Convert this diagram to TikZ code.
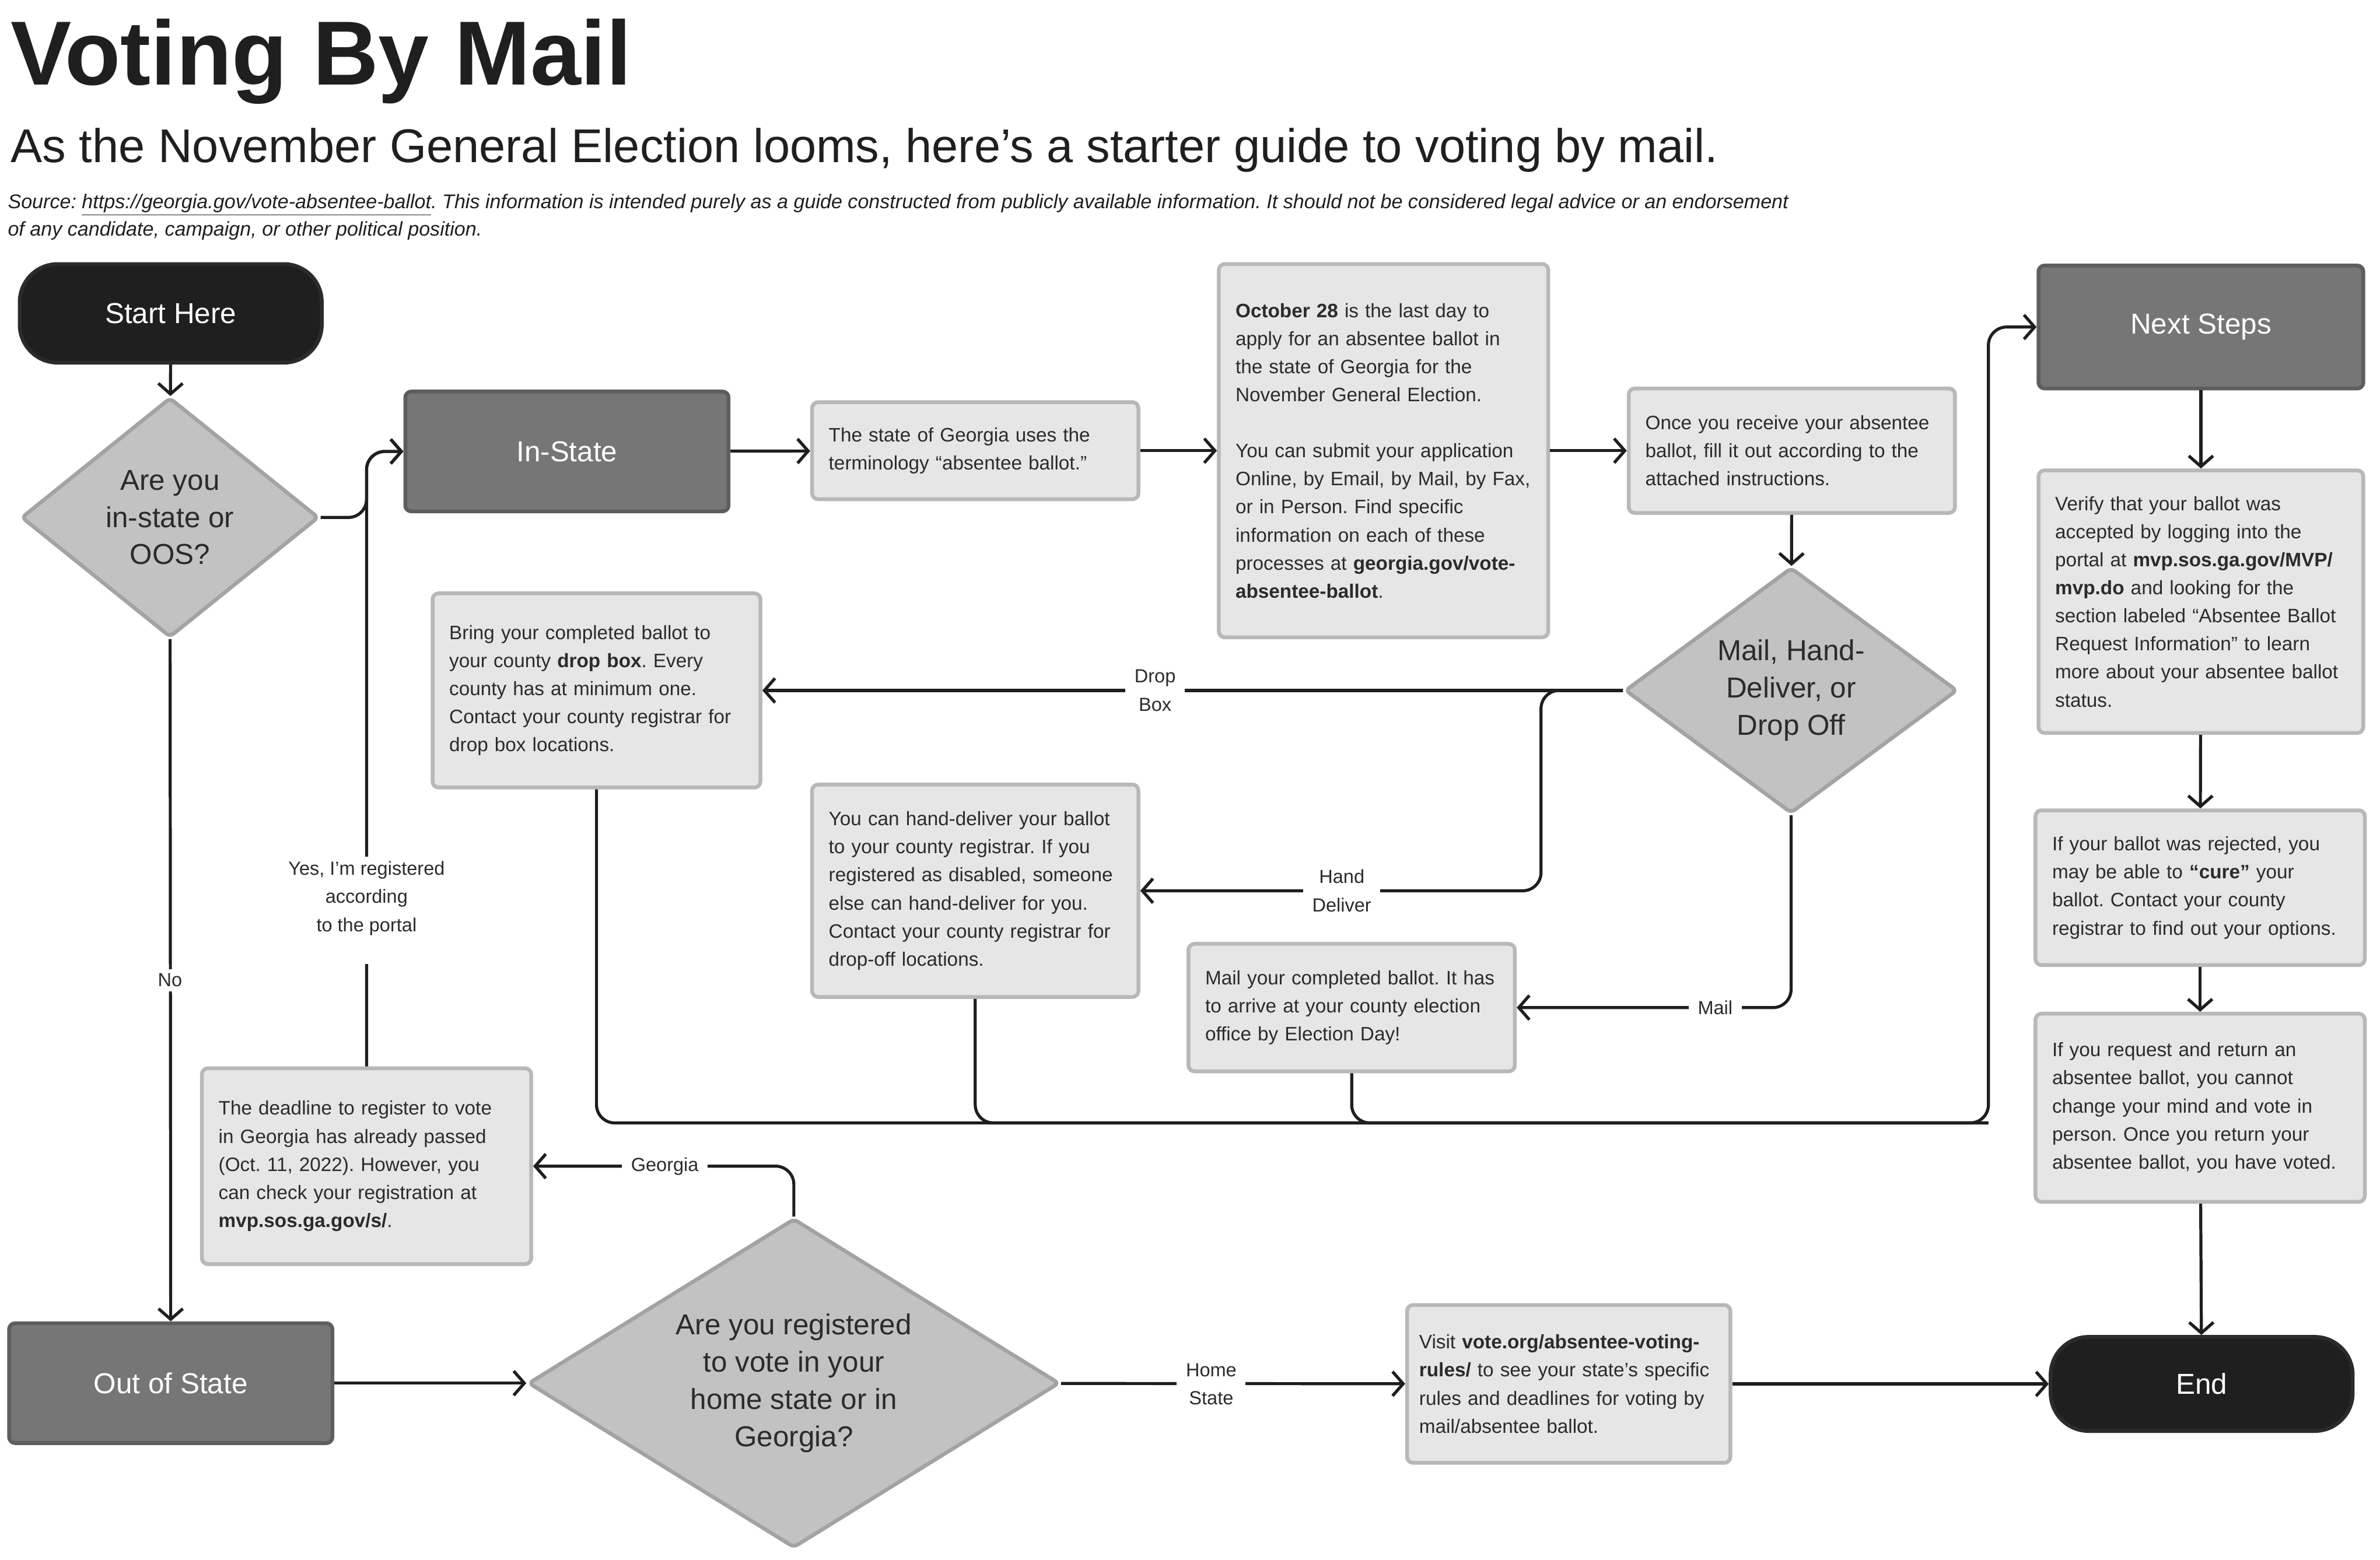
\documentclass[tikz,border=0pt]{standalone}
\usepackage{fontspec}
\setmainfont{Liberation Sans}
\usepackage{tikz}
\usetikzlibrary{arrows.meta,shapes.geometric}
\frenchspacing
\hyphenpenalty=10000
\definecolor{schwarz}{rgb}{0.122,0.122,0.122}
\definecolor{schwarzRand}{rgb}{0.17,0.17,0.17}
\definecolor{dunkel}{rgb}{0.463,0.463,0.463}
\definecolor{dunkelRand}{rgb}{0.37,0.37,0.37}
\definecolor{hell}{rgb}{0.902,0.902,0.902}
\definecolor{hellRand}{rgb}{0.722,0.722,0.722}
\definecolor{raute}{rgb}{0.761,0.761,0.761}
\definecolor{rauteRand}{rgb}{0.64,0.64,0.64}
\definecolor{schrift}{rgb}{0.17,0.17,0.17}
\definecolor{linie}{rgb}{0.118,0.118,0.118}
\tikzstyle{terminal} = [line width=2.5pt,draw=schwarzRand,fill=schwarz,rectangle,rounded corners=25pt,text=white,font=\fontsize{19}{24}\selectfont]
\tikzstyle{stage} = [line width=2.5pt,draw=dunkelRand,fill=dunkel,rectangle,rounded corners=4pt,text=white,font=\fontsize{19}{24}\selectfont]
\tikzstyle{info} = [line width=2.5pt,draw=hellRand,fill=hell,rectangle,rounded corners=4pt,text=schrift,align=left,inner xsep=11pt,inner ysep=0pt,font=\fontsize{12.8}{18.5}\selectfont]
\tikzstyle{decision} = [line width=2.5pt,draw=rauteRand,fill=raute,diamond,rounded corners=3pt,text=schrift,align=center,inner sep=0pt,font=\fontsize{19}{24.5}\selectfont]
\tikzstyle{flow} = [-{Straight Barb[length=7pt,width=16pt]},line width=2pt,draw=linie,rounded corners=12pt]
\tikzstyle{flowline} = [line width=2pt,draw=linie,rounded corners=12pt]
\tikzstyle{lbl} = [fill=white,text=schrift,align=center,inner xsep=6pt,inner ysep=3pt,font=\fontsize{12.5}{18.5}\selectfont]

\begin{document}
\begin{tikzpicture}[x=1pt,y=-1pt]
\path[use as bounding box,fill=white] (0,0) rectangle (1568,1028);

% header
\node[anchor=base west,inner sep=0pt,text=schwarz,font=\fontsize{60}{66}\selectfont\bfseries] (titel) at (7,56) {Voting By Mail};
\node[anchor=base west,inner sep=0pt,text=schwarz,font=\fontsize{31.2}{36}\selectfont] (untertitel) at (7,107) {As the November General Election looms, here’s a starter guide to voting by mail.};
\node[anchor=base west,inner sep=0pt,text=schwarz,font=\fontsize{13.1}{18.5}\selectfont\itshape] (quelle1) at (5,137.5) {Source: \underline{https://georgia.gov/vote-absentee-ballot}. This information is intended purely as a guide constructed from publicly available information. It should not be considered legal advice or an endorsement};
\node[anchor=base west,inner sep=0pt,text=schwarz,font=\fontsize{13.1}{18.5}\selectfont\itshape] (quelle2) at (5,155.5) {of any candidate, campaign, or other political position.};

% left column
\node[terminal,minimum width=199pt,minimum height=65pt] (start) at (112.5,206.5) {
	Start Here
};
\node[decision,minimum width=196pt,minimum height=158pt,aspect=1.24] (oos) at (112,341) {
	Are you\\in-state or\\OOS?
};
\node[stage,minimum width=213pt,minimum height=79pt] (out) at (112.5,911.5) {
	Out of State
};
\node[info,text width=195pt,minimum height=129pt] (deadline) at (241.5,768.5) {
	The deadline to register to vote\\
	in Georgia has already passed\\
	(Oct. 11, 2022). However, you\\
	can check your registration at\\
	\textbf{mvp.sos.ga.gov/s/}.
};
\node[decision,minimum width=350pt,minimum height=217pt,aspect=1.6] (reg) at (523,911.5) {
	Are you registered\\to vote in your\\home state or in\\Georgia?
};
\node[info,inner xsep=8pt,text width=197pt,minimum height=104pt] (visit) at (1033.5,912) {
	Visit \textbf{vote.org/absentee-voting-}\\
	\textbf{rules/} to see your state’s specific\\
	rules and deadlines for voting by\\
	mail/absentee ballot.
};

% in-state row
\node[stage,minimum width=213pt,minimum height=79pt] (instate) at (373.5,297.5) {
	In-State
};
\node[info,text width=193pt,minimum height=64pt] (term) at (642.5,297) {
	The state of Georgia uses the\\
	terminology “absentee ballot.”
};
\node[info,text width=195pt,minimum height=246pt] (oct) at (911.5,297) {
	\textbf{October 28} is the last day to\\
	apply for an absentee ballot in\\
	the state of Georgia for the\\
	November General Election.\\[18.5pt]
	You can submit your application\\
	Online, by Email, by Mail, by Fax,\\
	or in Person. Find specific\\
	information on each of these\\
	processes at \textbf{georgia.gov/vote-}\\
	\textbf{absentee-ballot}.
};
\node[info,text width=193pt,minimum height=82pt] (receive) at (1180.5,297) {
	Once you receive your absentee\\
	ballot, fill it out according to the\\
	attached instructions.
};
\node[decision,minimum width=219pt,minimum height=162pt,aspect=1.35] (how) at (1180,455) {
	Mail, Hand-\\Deliver, or\\Drop Off
};

% ways to return the ballot
\node[info,text width=194pt,minimum height=128pt] (dropbox) at (393,455) {
	Bring your completed ballot to\\
	your county \textbf{drop box}. Every\\
	county has at minimum one.\\
	Contact your county registrar for\\
	drop box locations.
};
\node[info,text width=193pt,minimum height=140pt] (hand) at (642.5,587) {
	You can hand-deliver your ballot\\
	to your county registrar. If you\\
	registered as disabled, someone\\
	else can hand-deliver for you.\\
	Contact your county registrar for\\
	drop-off locations.
};
\node[info,text width=193pt,minimum height=84pt] (mail) at (890.5,664) {
	Mail your completed ballot. It has\\
	to arrive at your county election\\
	office by Election Day!
};

% right column
\node[stage,minimum width=214pt,minimum height=81pt] (next) at (1450,215.5) {
	Next Steps
};
\node[info,text width=192pt,minimum height=173pt] (verify) at (1450,396.5) {
	Verify that your ballot was\\
	accepted by logging into the\\
	portal at \textbf{mvp.sos.ga.gov/MVP/}\\
	\textbf{mvp.do} and looking for the\\
	section labeled “Absentee Ballot\\
	Request Information” to learn\\
	more about your absentee ballot\\
	status.
};
\node[info,text width=195pt,minimum height=102pt] (cure) at (1449.5,585) {
	If your ballot was rejected, you\\
	may be able to \textbf{“cure”} your\\
	ballot. Contact your county\\
	registrar to find out your options.
};
\node[info,text width=195pt,minimum height=124pt] (final) at (1449.5,730) {
	If you request and return an\\
	absentee ballot, you cannot\\
	change your mind and vote in\\
	person. Once you return your\\
	absentee ballot, you have voted.
};
\node[terminal,minimum width=199pt,minimum height=62pt] (ende) at (1450.5,912) {
	End
};

% connectors
\coordinate (jin) at (deadline.north |- instate.west);
\coordinate (sammel) at (1310,740);

\draw[flow] (start) -- (oos);
\draw[flow] (oos.east) -| (jin) -- (instate.west);
\draw[flow] (deadline.north) -- (jin) -- (instate.west);
\draw[flow] (oos) -- (out);
\draw[flow] (instate) -- (term);
\draw[flow] (term) -- (oct);
\draw[flow] (oct) -- (receive);
\draw[flow] (receive) -- (how);
\draw[flow] (how.west) -- (dropbox.east);
\draw[flow] (how.west) -- ([xshift=-54pt]how.west) |- (hand.east);
\draw[flow] (how.south) |- (mail.east);
\draw[flow] (dropbox.south) |- (sammel) |- (next.west);
\draw[flowline] (hand.south) |- (sammel);
\draw[flowline] (mail.south) |- (sammel);
\draw[flow] (next) -- (verify);
\draw[flow] (verify) -- (cure);
\draw[flow] (cure) -- (final);
\draw[flow] (final) -- (ende);
\draw[flow] (out) -- (reg);
\draw[flow] (reg.north) |- (deadline.east);
\draw[flow] (reg) -- (visit);
\draw[flow] (visit) -- (ende);

% connector labels
\node[lbl] (lyes) at (241.5,600) {Yes, I’m registered\\according\\to the portal\\\mbox{}};
\node[lbl] (lno) at (112,646) {No};
\node[lbl] (ldrop) at (761,455) {Drop\\Box};
\node[lbl] (lhand) at (884,587) {Hand\\Deliver};
\node[lbl] (lmail) at (1130,664) {Mail};
\node[lbl] (lgeorgia) at (438,768.5) {Georgia};
\node[lbl] (lhome) at (798,912) {Home\\State};
\end{tikzpicture}
\end{document}
